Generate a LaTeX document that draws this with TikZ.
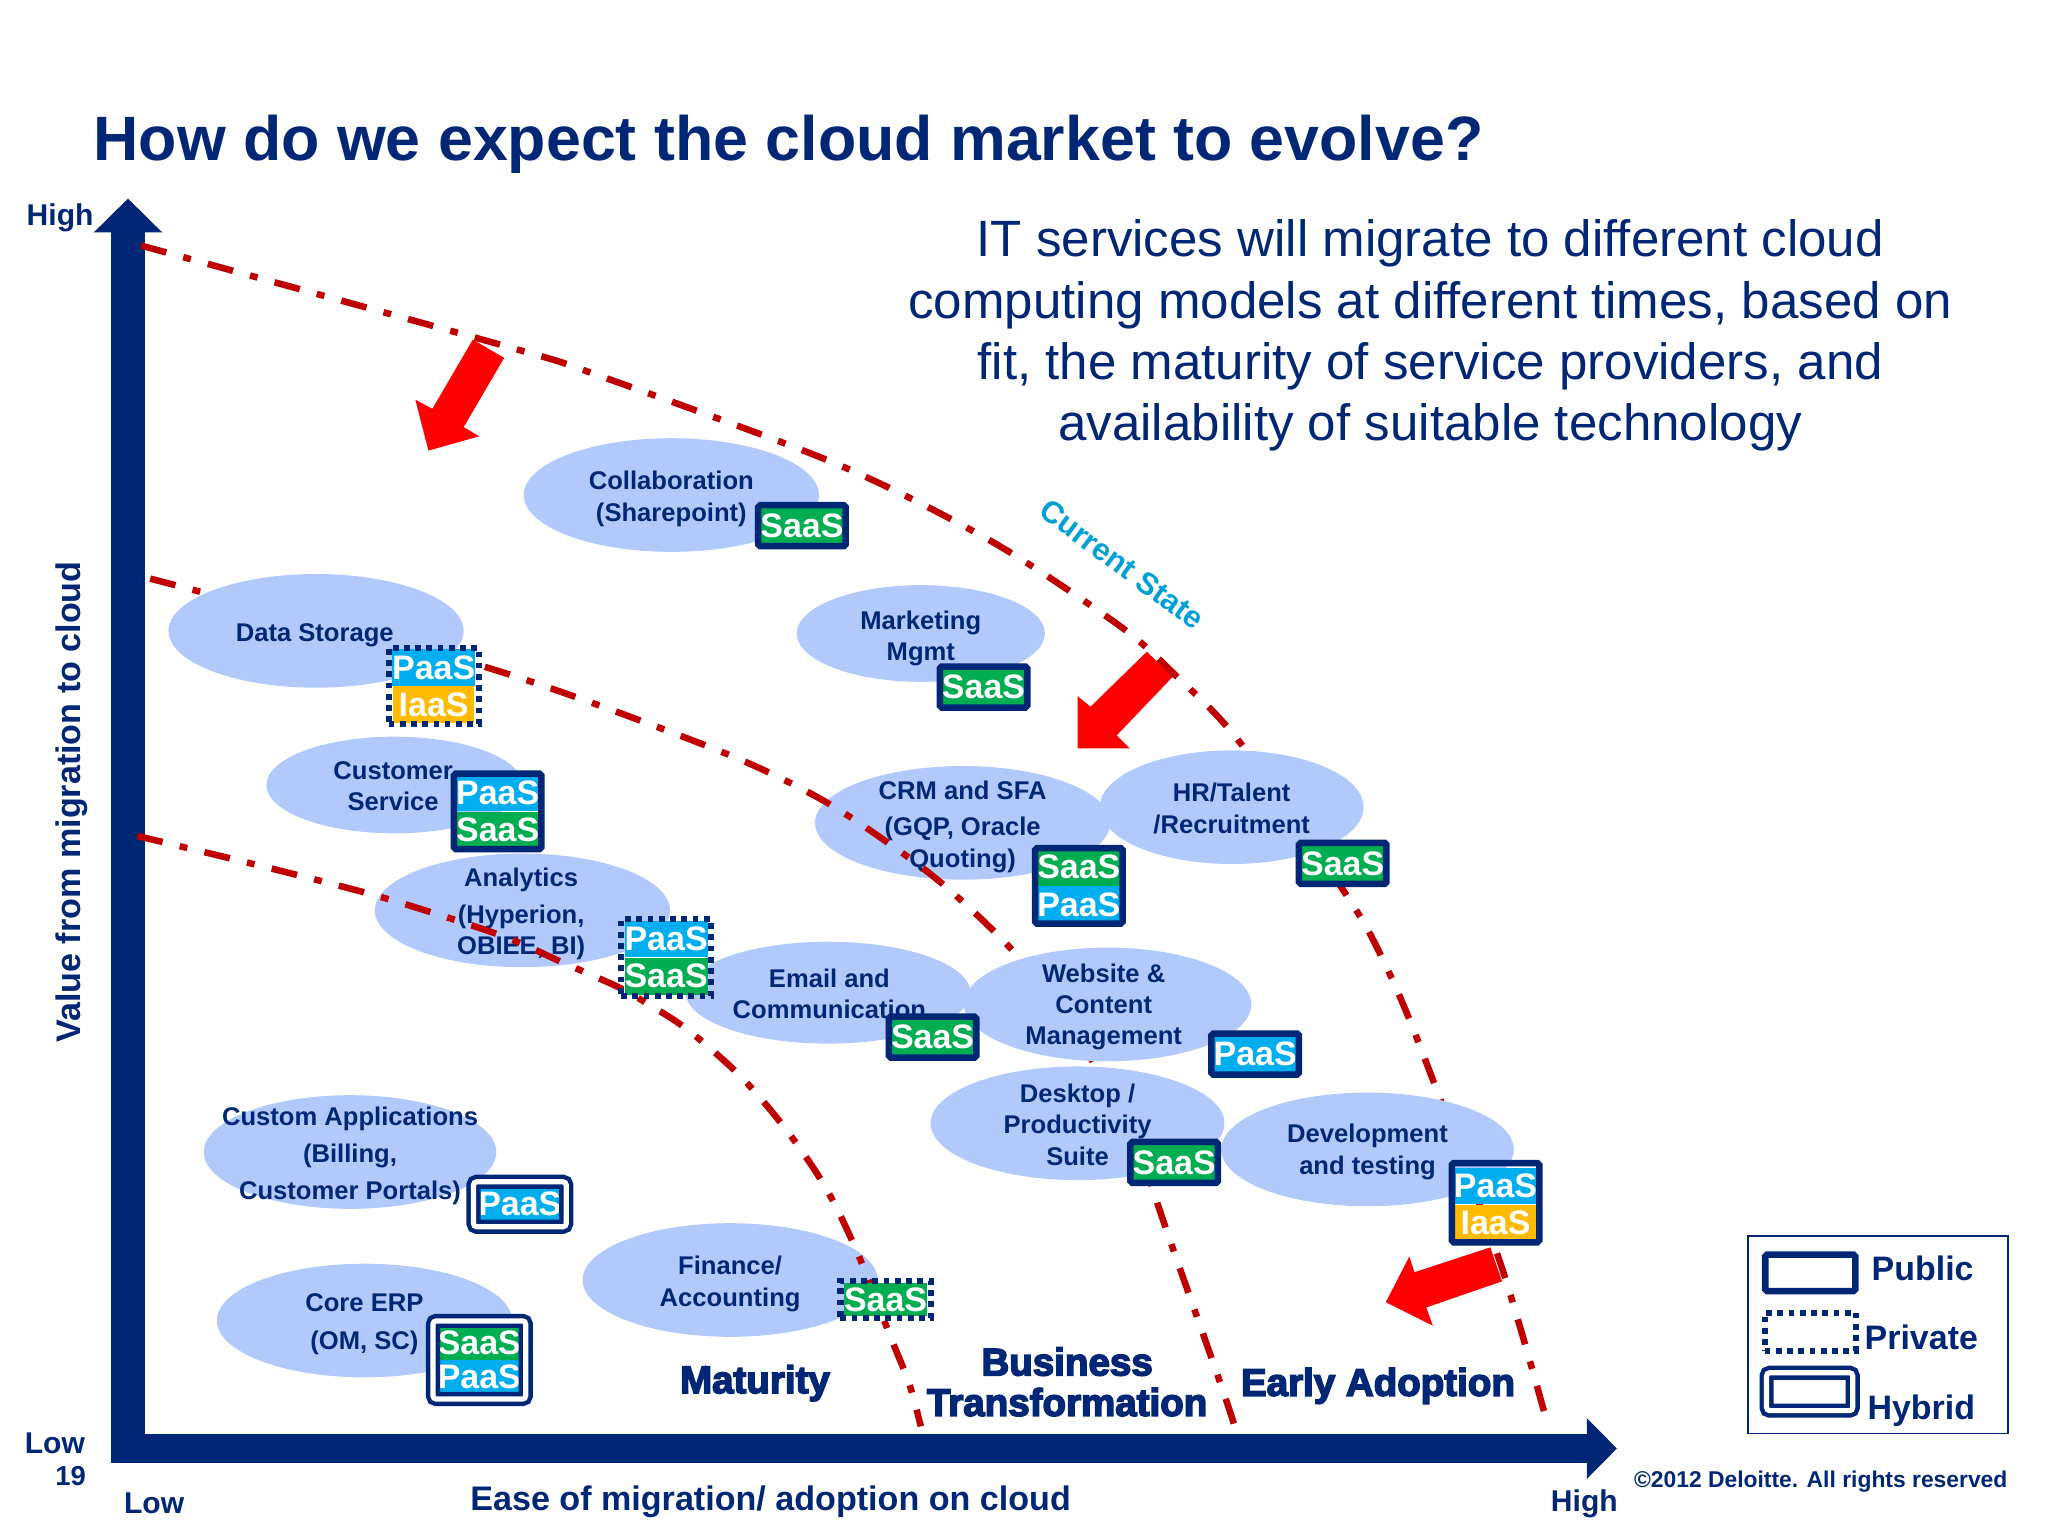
\documentclass[tikz,border=0pt]{standalone}
\usepackage{fontspec}
\setmainfont{Liberation Sans}
\newfontfamily\heavyfont[FakeBold=4]{Liberation Sans Bold}
\usetikzlibrary{positioning,fit,arrows.meta,shapes.geometric}
\definecolor{navy}{HTML}{002776}
\definecolor{blobblue}{HTML}{B2CAFB}
\definecolor{limitred}{HTML}{C00000}
\definecolor{saasgreen}{HTML}{00AD50}
\definecolor{paasblue}{HTML}{00AEEF}
\definecolor{iaasgold}{HTML}{FFBB00}
\definecolor{statecyan}{HTML}{00A0D6}

\begin{document}
\begin{tikzpicture}[x=1pt, y=-1pt,
    blob/.style = {ellipse, fill=blobblue, inner sep=0pt},
    blobtext/.style = {align=center, text=navy, yshift=-2pt, font=\fontsize{19.6}{24}\selectfont\bfseries},
    limitline/.style = {draw=limitred, line width=5pt, dash pattern=on 20pt off 13.5pt on 6pt off 13.5pt},
    dropred/.style = {fill=red},
    tier/.style = {text=white, inner sep=0pt, minimum width=62pt, minimum height=28pt, font=\fontsize{26}{26}\selectfont\bfseries},
    saas/.style = {tier, fill=saasgreen},
    paas/.style = {tier, fill=paasblue},
    iaas/.style = {tier, fill=iaasgold},
    publicframe/.style = {draw=navy, line width=5pt, rounded corners=1.5pt, inner sep=1.5pt},
    privateframe/.style = {draw=navy, line width=4.6pt, dash pattern=on 4.4pt off 4.2pt, inner sep=2.5pt},
    hybridframe/.style = {draw=navy, line width=3.4pt, double=white, double distance=4pt, rounded corners=2.5pt, inner sep=3.5pt},
    phase/.style = {align=center, text=navy, font=\heavyfont\fontsize{29.5}{31}\selectfont},
    axistext/.style = {text=navy, font=\fontsize{26.1}{29}\selectfont\bfseries},
    smallaxis/.style = {text=navy, font=\fontsize{23}{26}\selectfont\bfseries},
    legendtext/.style = {text=navy, font=\fontsize{26}{30}\selectfont\bfseries}]
    \useasboundingbox (0,0) rectangle (1568,1176);

    \node[anchor=west, text=navy, font=\fontsize{48}{50}\selectfont\bfseries] (title) at (68,110.5) {How do we expect the cloud market to evolve?};
    \node[align=center, text=navy, font=\fontsize{39.1}{47}\selectfont] (message) at (1095,257) {IT services will migrate to different cloud\\computing models at different times, based on\\fit, the maturity of service providers, and\\availability of suitable technology};

    \coordinate (ycorner) at (98,1120);
    \coordinate (ytop) at (98,152);
    \coordinate (xcorner) at (86,1109);
    \coordinate (xtop) at (1238,1109);
    \draw[draw=navy, line width=26pt, -{Triangle[length=26pt, width=51pt]}] (ycorner) -- (ytop);
    \draw[draw=navy, line width=22pt, -{Triangle[length=23pt, width=45pt]}] (xcorner) -- (xtop);

    \fill[dropred] (362,260) -- (386,274) -- (355,327) -- (367,334) -- (328,345) -- (318,306) -- (331,313) -- cycle;
    \fill[dropred] (825,533) -- (835,541) -- (878,499) -- (898,518) -- (855,563) -- (865,573) -- (825,573) -- cycle;
    \fill[dropred] (1141,955) -- (1150,981) -- (1092,1001) -- (1097,1015) -- (1061,997) -- (1079,962) -- (1083,974) -- cycle;

    \node[blob, minimum width=226pt, minimum height=87pt] (analytics) at (400,697) {};
    \node[blobtext] (analyticst) at (399,698) {Analytics\\[4pt](Hyperion,\\OBIEE, BI)};
    \node[blob, minimum width=226pt, minimum height=87pt] (crm) at (737,630) {};
    \node[blobtext] (crmt) at (737,631) {CRM and SFA\\[4pt](GQP, Oracle\\Quoting)};
    \node[blob, minimum width=226pt, minimum height=87pt] (finance) at (559,980) {};
    \node[blobtext] (financet) at (559,981) {Finance/\\Accounting};

    \coordinate (limita) at (108,188);
    \coordinate (limitaend) at (1185,1091);
    \coordinate (limitb) at (115,443);
    \coordinate (limitbend) at (945,1091);
    \coordinate (limitc) at (105,640);
    \coordinate (limitcend) at (705,1092);
    \draw[limitline] plot[smooth, tension=0.5] coordinates {(limita) (387,265) (457,287) (640,355) (760,415) (857,479) (900,517) (949,568) (1030,684) (1057,731) (1086,798) (1148,965) (limitaend)};
    \draw[limitline] plot[smooth, tension=0.5] coordinates {(limitb) (153,453) (376,512) (546,573) (627,611) (688,651) (730,684) (780,733) (825,795) (865,860) (886,921) (898,956) (934,1058) (limitbend)};
    \draw[limitline] plot[smooth, tension=0.5] coordinates {(limitc) (208,665) (296,688) (383,716) (431,737) (474,756) (495,768) (526,788) (567,824) (602,865) (632,909) (656,958) (682,1024) (696,1059) (limitcend)};

    \node[blob, minimum width=226pt, minimum height=87pt] (collab) at (514,379) {};
    \node[blobtext] (collabt) at (514,380) {Collaboration\\(Sharepoint)};
    \node[blob, minimum width=226pt, minimum height=87pt] (storage) at (242,483) {};
    \node[blobtext] (storaget) at (241,484) {Data Storage};
    \node[blob, minimum width=196pt, minimum height=74pt] (service) at (302,601) {};
    \node[blobtext] (servicet) at (301,600) {Customer\\Service};
    \node[blob, minimum width=190pt, minimum height=74pt] (marketing) at (705,485) {};
    \node[blobtext] (marketingt) at (705,487) {Marketing\\Mgmt};
    \node[blob, minimum width=202pt, minimum height=87pt] (talent) at (943,618) {};
    \node[blobtext] (talentt) at (943,617) {HR/Talent\\/Recruitment};
    \node[blob, minimum width=218pt, minimum height=78pt] (email) at (634,760) {};
    \node[blobtext] (emailt) at (635,759) {Email and\\Communication};
    \node[blob, minimum width=220pt, minimum height=87pt] (website) at (848,769) {};
    \node[blobtext] (websitet) at (845,769) {Website \&\\Content\\Management};
    \node[blob, minimum width=225pt, minimum height=87pt] (desktop) at (825,860) {};
    \node[blobtext] (desktopt) at (825,859) {Desktop /\\Productivity\\Suite};
    \node[blob, minimum width=224pt, minimum height=87pt] (develop) at (1047,880) {};
    \node[blobtext] (developt) at (1047,880) {Development\\and testing};
    \node[blob, minimum width=224pt, minimum height=87pt] (custom) at (268,882) {};
    \node[blobtext] (customt) at (268,883) {Custom Applications\\[4pt](Billing,\\[4pt]Customer Portals)};
    \node[blob, minimum width=226pt, minimum height=87pt] (erp) at (279,1011) {};
    \node[blobtext] (erpt) at (279,1012) {Core ERP\\[5pt](OM, SC)};

    \node[saas] (collabs) at (614,402.5) {SaaS};
    \node[publicframe, fit=(collabs)] (collabb) {};
    \node[saas] (marketings) at (753,526) {SaaS};
    \node[publicframe, fit=(marketings)] (marketingb) {};
    \node[paas] (storagep) at (332,511) {PaaS};
    \node[iaas, below=0pt of storagep] (storagei) {IaaS};
    \node[privateframe, inner ysep=1pt, fit=(storagep)(storagei)] (storageb) {};
    \node[paas] (servicep) at (381,607) {PaaS};
    \node[saas, below=0pt of servicep] (services) {SaaS};
    \node[publicframe, inner ysep=0.5pt, fit=(servicep)(services)] (serviceb) {};
    \node[saas] (crms) at (826,664) {SaaS};
    \node[paas, below=0pt of crms] (crmp) {PaaS};
    \node[publicframe, inner ysep=0.5pt, fit=(crms)(crmp)] (crmb) {};
    \node[saas] (talents) at (1028,661) {SaaS};
    \node[publicframe, fit=(talents)] (talentb) {};
    \node[paas] (analyticsp) at (510,719) {PaaS};
    \node[saas, below=0pt of analyticsp] (analyticss) {SaaS};
    \node[privateframe, inner ysep=1pt, fit=(analyticsp)(analyticss)] (analyticsb) {};
    \node[saas] (emails) at (714,794) {SaaS};
    \node[publicframe, fit=(emails)] (emailb) {};
    \node[paas] (websitep) at (961,807) {PaaS};
    \node[publicframe, fit=(websitep)] (websiteb) {};
    \node[saas] (desktops) at (899,890) {SaaS};
    \node[publicframe, fit=(desktops)] (desktopb) {};
    \node[paas] (developp) at (1145,908) {PaaS};
    \node[iaas, below=0pt of developp] (developi) {IaaS};
    \coordinate (developtop) at (1145,891);
    \node[publicframe, inner ysep=0.5pt, fit=(developtop)(developp)(developi)] (developb) {};
    \node[paas, minimum height=27pt] (customp) at (398,922) {PaaS};
    \node[hybridframe, fit=(customp)] (customb) {};
    \node[saas, minimum height=26pt] (erps) at (367,1028) {SaaS};
    \node[paas, minimum height=26pt, below=0pt of erps] (erpp) {PaaS};
    \node[hybridframe, fit=(erps)(erpp)] (erpb) {};
    \node[saas, minimum height=25pt] (finances) at (678,995) {SaaS};
    \node[privateframe, inner ysep=1.5pt, fit=(finances)] (financeb) {};

    \node[rotate=-36.5, text=statecyan, font=\fontsize{23.6}{26}\selectfont\bfseries] (current) at (859,432) {Current State};
    \node[phase] (maturity) at (578,1059) {Maturity};
    \node[phase] (business) at (817,1058) {Business\\Transformation};
    \node[phase] (early) at (1055,1061) {Early Adoption};

    \node[axistext, rotate=90] (yaxis) at (55,614) {Value from migration to cloud};
    \node[axistext] (xaxis) at (590,1150) {Ease of migration/ adoption on cloud};
    \node[smallaxis] (yhigh) at (46,167) {High};
    \node[smallaxis] (ylow) at (42,1105) {Low};
    \node[smallaxis, font=\fontsize{21}{26}\selectfont\bfseries] (page) at (54,1130) {19};
    \node[smallaxis] (xlow) at (118,1151) {Low};
    \node[smallaxis] (xhigh) at (1213,1151) {High};
    \node[text=navy, font=\fontsize{17.5}{20}\selectfont\bfseries] (rights) at (1394,1134) {©2012 Deloitte. All rights reserved};

    \node[draw=navy, line width=1.5pt, minimum width=199pt, minimum height=151pt] (legend) at (1437.5,1022) {};
    \node[publicframe, minimum width=69pt, minimum height=28pt] (legpublic) at (1386,974.5) {};
    \node[privateframe, minimum width=70pt, minimum height=29pt] (legprivate) at (1386,1019.5) {};
    \node[hybridframe, minimum width=66pt, minimum height=29pt] (leghybrid) at (1385.5,1065.5) {};
    \node[legendtext] (legpublict) at (1472,971) {Public};
    \node[legendtext] (legprivatet) at (1471,1024) {Private};
    \node[legendtext] (leghybridt) at (1471,1080) {Hybrid};
\end{tikzpicture}
\end{document}
